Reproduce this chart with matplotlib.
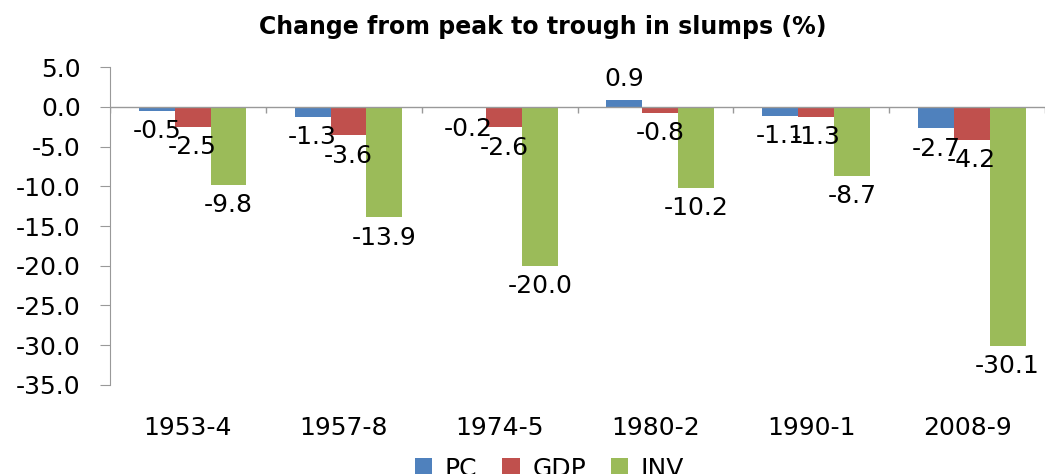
import numpy as np
import matplotlib
matplotlib.use("Agg")
from matplotlib import pyplot as plt

# data
periods = ["1953-4", "1957-8", "1974-5", "1980-2", "1990-1", "2008-9"]
pc = [-0.5, -1.3, -0.2, 0.9, -1.1, -2.7]
gdp = [-2.5, -3.6, -2.6, -0.8, -1.3, -4.2]
inv = [-9.8, -13.9, -20.0, -10.2, -8.7, -30.1]
y_ticks = [5.0, 0.0, -5.0, -10.0, -15.0, -20.0, -25.0, -30.0, -35.0]

colors = ["#4F81BD", "#C0504D", "#9BBB59"]
names = ["PC", "GDP", "INV"]

fig = plt.figure(figsize=(10.62, 4.74), dpi=100)
ax = fig.add_axes([0.1036, 0.1878, 0.8804, 0.6708])

x = np.arange(len(periods))
w = 0.23
for i, (vals, c, n) in enumerate(zip([pc, gdp, inv], colors, names)):
    bars = ax.bar(x + (i - 1) * w + 0.03, vals, w, color=c, label=n)
    ax.bar_label(bars, fmt="%.1f", padding=6, fontsize=18, color="black")

ax.set_xlim(-0.5, len(periods) - 0.5)
ax.set_ylim(-35, 5)
ax.set_yticks(y_ticks)
ax.set_yticklabels([f"{v:.1f}" for v in y_ticks], fontsize=18)
ax.tick_params(axis="y", length=7, color="#999999", pad=14)

ax.set_xticks(x)
ax.set_xticklabels(periods, fontsize=18)
ax.tick_params(axis="x", length=0, pad=22)

for s in ["top", "right", "bottom"]:
    ax.spines[s].set_visible(False)
ax.spines["left"].set_color("#999999")

# zero line with category separators
ax.axhline(0, color="#999999", lw=1)
ax.vlines(np.arange(len(periods) + 1) - 0.5, -0.8, 0, color="#999999", lw=1)

ax.set_title("Change from peak to trough in slumps (%)", fontsize=17,
             fontweight="bold", pad=24, x=0.463)

ax.legend(loc="upper center", bbox_to_anchor=(0.47, -0.155), ncol=3,
          frameon=False, fontsize=18, handlelength=0.7, handleheight=0.7,
          columnspacing=1.0, handletextpad=0.5)

fig.savefig("out.png", dpi=100)
